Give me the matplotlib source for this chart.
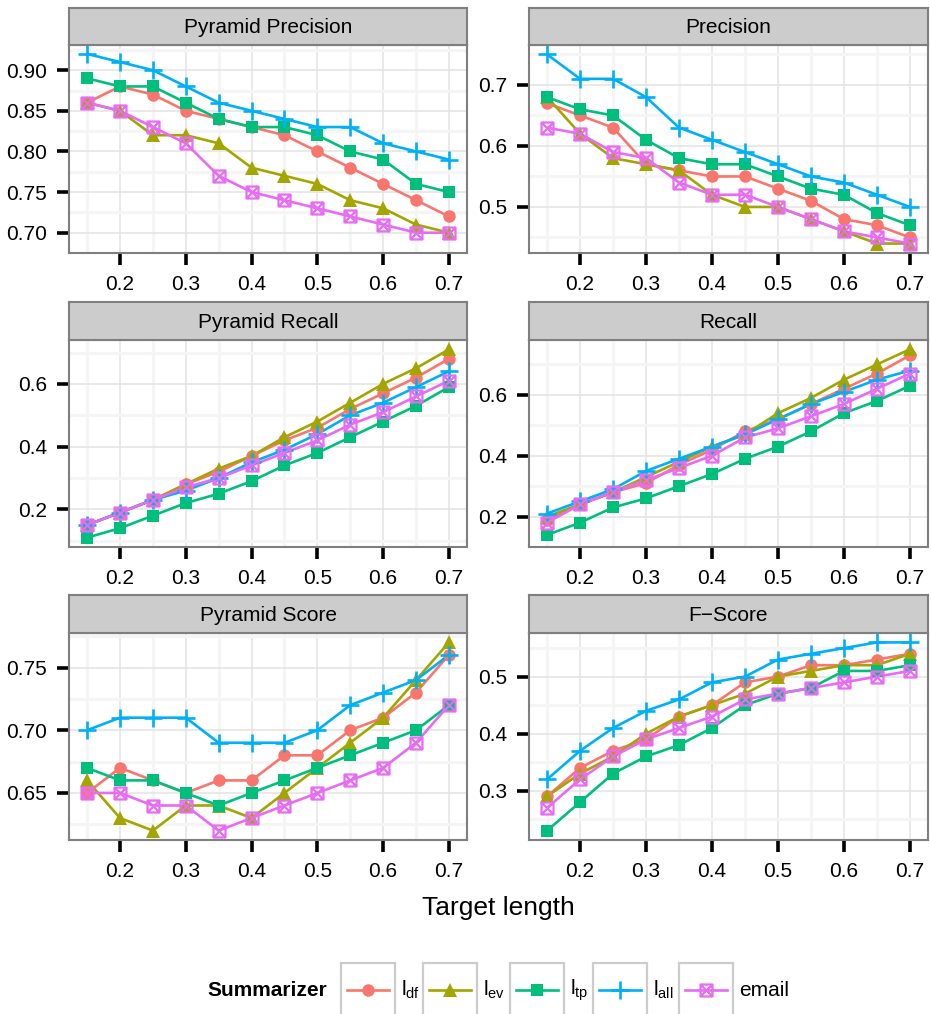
import numpy as np
import matplotlib
matplotlib.use("Agg")
import matplotlib.pyplot as plt
from matplotlib.path import Path
from matplotlib.patches import Rectangle
from matplotlib.lines import Line2D

plt.rcParams['font.family'] = ['Liberation Sans', 'DejaVu Sans']
plt.rcParams['mathtext.fontset'] = 'custom'
plt.rcParams['mathtext.rm'] = 'Liberation Sans'
plt.rcParams['mathtext.it'] = 'Liberation Sans:italic'
plt.rcParams['mathtext.bf'] = 'Liberation Sans:bold'

# ---------------- data ----------------
target_length = [0.15, 0.20, 0.25, 0.30, 0.35, 0.40, 0.45, 0.50, 0.55, 0.60, 0.65, 0.70]
summarizers = ['l_df', 'l_ev', 'l_tp', 'l_all', 'email']
legend_labels = [r'$\mathregular{l_{df}}$', r'$\mathregular{l_{ev}}$',
                 r'$\mathregular{l_{tp}}$', r'$\mathregular{l_{all}}$', 'email']
colors = ['#F8766D', '#A3A500', '#00BF7D', '#00B0F6', '#E76BF3']

# rows in summarizer order: l_df, l_ev, l_tp, l_all, email
pyramid_precision = [
    [0.86, 0.88, 0.87, 0.85, 0.84, 0.83, 0.82, 0.80, 0.78, 0.76, 0.74, 0.72],
    [0.86, 0.85, 0.82, 0.82, 0.81, 0.78, 0.77, 0.76, 0.74, 0.73, 0.71, 0.70],
    [0.89, 0.88, 0.88, 0.86, 0.84, 0.83, 0.83, 0.82, 0.80, 0.79, 0.76, 0.75],
    [0.92, 0.91, 0.90, 0.88, 0.86, 0.85, 0.84, 0.83, 0.83, 0.81, 0.80, 0.79],
    [0.86, 0.85, 0.83, 0.81, 0.77, 0.75, 0.74, 0.73, 0.72, 0.71, 0.70, 0.70],
]
precision = [
    [0.67, 0.65, 0.63, 0.57, 0.56, 0.55, 0.55, 0.53, 0.51, 0.48, 0.47, 0.45],
    [0.68, 0.62, 0.58, 0.57, 0.56, 0.52, 0.50, 0.50, 0.48, 0.46, 0.44, 0.44],
    [0.68, 0.66, 0.65, 0.61, 0.58, 0.57, 0.57, 0.55, 0.53, 0.52, 0.49, 0.47],
    [0.75, 0.71, 0.71, 0.68, 0.63, 0.61, 0.59, 0.57, 0.55, 0.54, 0.52, 0.50],
    [0.63, 0.62, 0.59, 0.58, 0.54, 0.52, 0.52, 0.50, 0.48, 0.46, 0.45, 0.44],
]
pyramid_recall = [
    [0.15, 0.19, 0.23, 0.28, 0.32, 0.37, 0.42, 0.46, 0.52, 0.57, 0.62, 0.68],
    [0.15, 0.19, 0.23, 0.28, 0.33, 0.37, 0.43, 0.48, 0.54, 0.60, 0.65, 0.71],
    [0.11, 0.14, 0.18, 0.22, 0.25, 0.29, 0.34, 0.38, 0.43, 0.48, 0.53, 0.59],
    [0.15, 0.19, 0.23, 0.26, 0.30, 0.35, 0.39, 0.44, 0.50, 0.54, 0.59, 0.64],
    [0.15, 0.19, 0.23, 0.27, 0.30, 0.34, 0.38, 0.42, 0.47, 0.51, 0.56, 0.61],
]
recall = [
    [0.19, 0.24, 0.28, 0.31, 0.37, 0.42, 0.48, 0.52, 0.57, 0.62, 0.67, 0.73],
    [0.20, 0.24, 0.28, 0.33, 0.38, 0.43, 0.47, 0.54, 0.59, 0.65, 0.70, 0.75],
    [0.14, 0.18, 0.23, 0.26, 0.30, 0.34, 0.39, 0.43, 0.48, 0.54, 0.58, 0.63],
    [0.21, 0.25, 0.29, 0.35, 0.39, 0.43, 0.47, 0.52, 0.57, 0.61, 0.65, 0.68],
    [0.18, 0.24, 0.28, 0.32, 0.36, 0.40, 0.46, 0.49, 0.53, 0.57, 0.62, 0.67],
]
pyramid_score = [
    [0.65, 0.67, 0.66, 0.65, 0.66, 0.66, 0.68, 0.68, 0.70, 0.71, 0.73, 0.76],
    [0.66, 0.63, 0.62, 0.64, 0.64, 0.63, 0.65, 0.67, 0.69, 0.71, 0.74, 0.77],
    [0.67, 0.66, 0.66, 0.65, 0.64, 0.65, 0.66, 0.67, 0.68, 0.69, 0.70, 0.72],
    [0.70, 0.71, 0.71, 0.71, 0.69, 0.69, 0.69, 0.70, 0.72, 0.73, 0.74, 0.76],
    [0.65, 0.65, 0.64, 0.64, 0.62, 0.63, 0.64, 0.65, 0.66, 0.67, 0.69, 0.72],
]
f_score = [
    [0.29, 0.34, 0.37, 0.39, 0.43, 0.45, 0.49, 0.50, 0.52, 0.52, 0.53, 0.54],
    [0.29, 0.33, 0.36, 0.40, 0.43, 0.45, 0.47, 0.50, 0.51, 0.52, 0.52, 0.54],
    [0.23, 0.28, 0.33, 0.36, 0.38, 0.41, 0.45, 0.47, 0.48, 0.51, 0.51, 0.52],
    [0.32, 0.37, 0.41, 0.44, 0.46, 0.49, 0.50, 0.53, 0.54, 0.55, 0.56, 0.56],
    [0.27, 0.32, 0.36, 0.39, 0.41, 0.43, 0.46, 0.47, 0.48, 0.49, 0.50, 0.51],
]

panel_titles = ['Pyramid Precision', 'Precision', 'Pyramid Recall', 'Recall',
                'Pyramid Score', 'F\u2212Score']
panel_data = [pyramid_precision, precision, pyramid_recall, recall, pyramid_score, f_score]
y_ticks = [[0.70, 0.75, 0.80, 0.85, 0.90], [0.5, 0.6, 0.7], [0.2, 0.4, 0.6],
           [0.2, 0.4, 0.6], [0.65, 0.70, 0.75], [0.3, 0.4, 0.5]]
y_ticklabels = [['0.70', '0.75', '0.80', '0.85', '0.90'], ['0.5', '0.6', '0.7'],
                ['0.2', '0.4', '0.6'], ['0.2', '0.4', '0.6'],
                ['0.65', '0.70', '0.75'], ['0.3', '0.4', '0.5']]
x_ticks = [0.2, 0.3, 0.4, 0.5, 0.6, 0.7]
x_ticklabels = ['0.2', '0.3', '0.4', '0.5', '0.6', '0.7']

# ---------------- style ----------------
W, H = 931, 1014
fig = plt.figure(figsize=(W / 100, H / 100), dpi=100)

sqx = Path([(-1, -1), (1, -1), (1, 1), (-1, 1), (-1, -1),
            (-1, -1), (1, 1), (-1, 1), (1, -1)],
           [Path.MOVETO, Path.LINETO, Path.LINETO, Path.LINETO, Path.CLOSEPOLY,
            Path.MOVETO, Path.LINETO, Path.MOVETO, Path.LINETO])
marker_kw = [
    dict(marker='o', markersize=9.0, mew=0),
    dict(marker='^', markersize=10.0, mew=0),
    dict(marker='s', markersize=8.8, mew=0),
    dict(marker='+', markersize=13.5, mew=1.9),
    dict(marker=sqx, markersize=8.6, mew=1.6, mfc='none'),
]

col_x = [(69, 467), (529, 928)]
row_y = [(8, 45, 253), (302, 340, 547), (595, 633, 840)]
BORDER = '#7F7F7F'


def fig_rect(x0, y0, x1, y1):
    return [x0 / W, 1 - y1 / H, (x1 - x0) / W, (y1 - y0) / H]


for i, (title, data) in enumerate(zip(panel_titles, panel_data)):
    r, c = divmod(i, 2)
    x0, x1 = col_x[c]
    s0, a0, a1 = row_y[r]
    ax = fig.add_axes(fig_rect(x0, a0, x1, a1))
    st = fig.add_axes(fig_rect(x0, s0, x1, a0))

    # strip
    st.set_facecolor('#CCCCCC')
    st.set_xticks([]); st.set_yticks([])
    for sp in st.spines.values():
        sp.set_color(BORDER); sp.set_linewidth(1.5)
    st.text(0.5, 0.47, title, ha='center', va='center', fontsize=15,
            color='black', transform=st.transAxes)

    # lines then points
    for k in range(len(summarizers)):
        ax.plot(target_length, data[k], color=colors[k], lw=1.9,
                solid_capstyle='butt', zorder=2)
    for k in range(len(summarizers)):
        ax.plot(target_length, data[k], ls='none', color=colors[k],
                mec=colors[k], zorder=3, clip_on=False, **marker_kw[k])

    xs = np.array(target_length)
    xr = xs.max() - xs.min()
    ax.set_xlim(xs.min() - 0.05 * xr, xs.max() + 0.05 * xr)
    allv = np.array(data)
    yr = allv.max() - allv.min()
    ax.set_ylim(allv.min() - 0.05 * yr, allv.max() + 0.05 * yr)

    ax.set_xticks(x_ticks)
    ax.set_xticklabels(x_ticklabels)
    ax.set_xticks(np.arange(0.15, 0.70, 0.1), minor=True)
    yt = y_ticks[i]
    step = yt[1] - yt[0]
    ax.set_yticks(yt)
    ax.set_yticklabels(y_ticklabels[i])
    ax.set_yticks(np.arange(yt[0] - step / 2, yt[-1] + step, step), minor=True)

    ax.set_axisbelow(True)
    ax.grid(which='minor', color='#F5F5F5', lw=2.2)
    ax.grid(which='major', color='#E3E3E3', lw=1.1)
    ax.tick_params(which='major', direction='out', length=8.8, width=2.6,
                   color='black', labelsize=15, pad=7, labelcolor='black')
    ax.tick_params(which='minor', length=0)
    for sp in ax.spines.values():
        sp.set_color(BORDER); sp.set_linewidth(1.5); sp.set_zorder(5)
    ax.set_facecolor('white')

fig.text(498 / W, 1 - 908 / H, 'Target length', ha='center', va='center',
         fontsize=19, color='black')

# ---------------- legend ----------------
ly = 990
fig.text(327 / W, 1 - ly / H, 'Summarizer', ha='right', va='center',
         fontsize=15, fontweight='bold')
box_left = [341, 423, 510, 593, 679]
box_w = 54
for k in range(len(summarizers)):
    bx = box_left[k]
    fig.add_artist(Rectangle((bx / W, 1 - 1030 / H), box_w / W, (1030 - 963) / H,
                             transform=fig.transFigure, facecolor='white',
                             edgecolor='#CCCCCC', lw=1.6, zorder=1))
    fig.add_artist(Line2D([(bx + 6) / W, (bx + box_w - 6) / W],
                          [1 - ly / H, 1 - ly / H], transform=fig.transFigure,
                          color=colors[k], lw=1.9, zorder=2))
    fig.add_artist(Line2D([(bx + box_w / 2) / W], [1 - ly / H],
                          transform=fig.transFigure, ls='none', color=colors[k],
                          mec=colors[k], zorder=3, **marker_kw[k]))
    fig.text((bx + box_w + 6) / W, 1 - ly / H, legend_labels[k], ha='left',
             va='center', fontsize=15)

fig.savefig('out.png', dpi=100)
